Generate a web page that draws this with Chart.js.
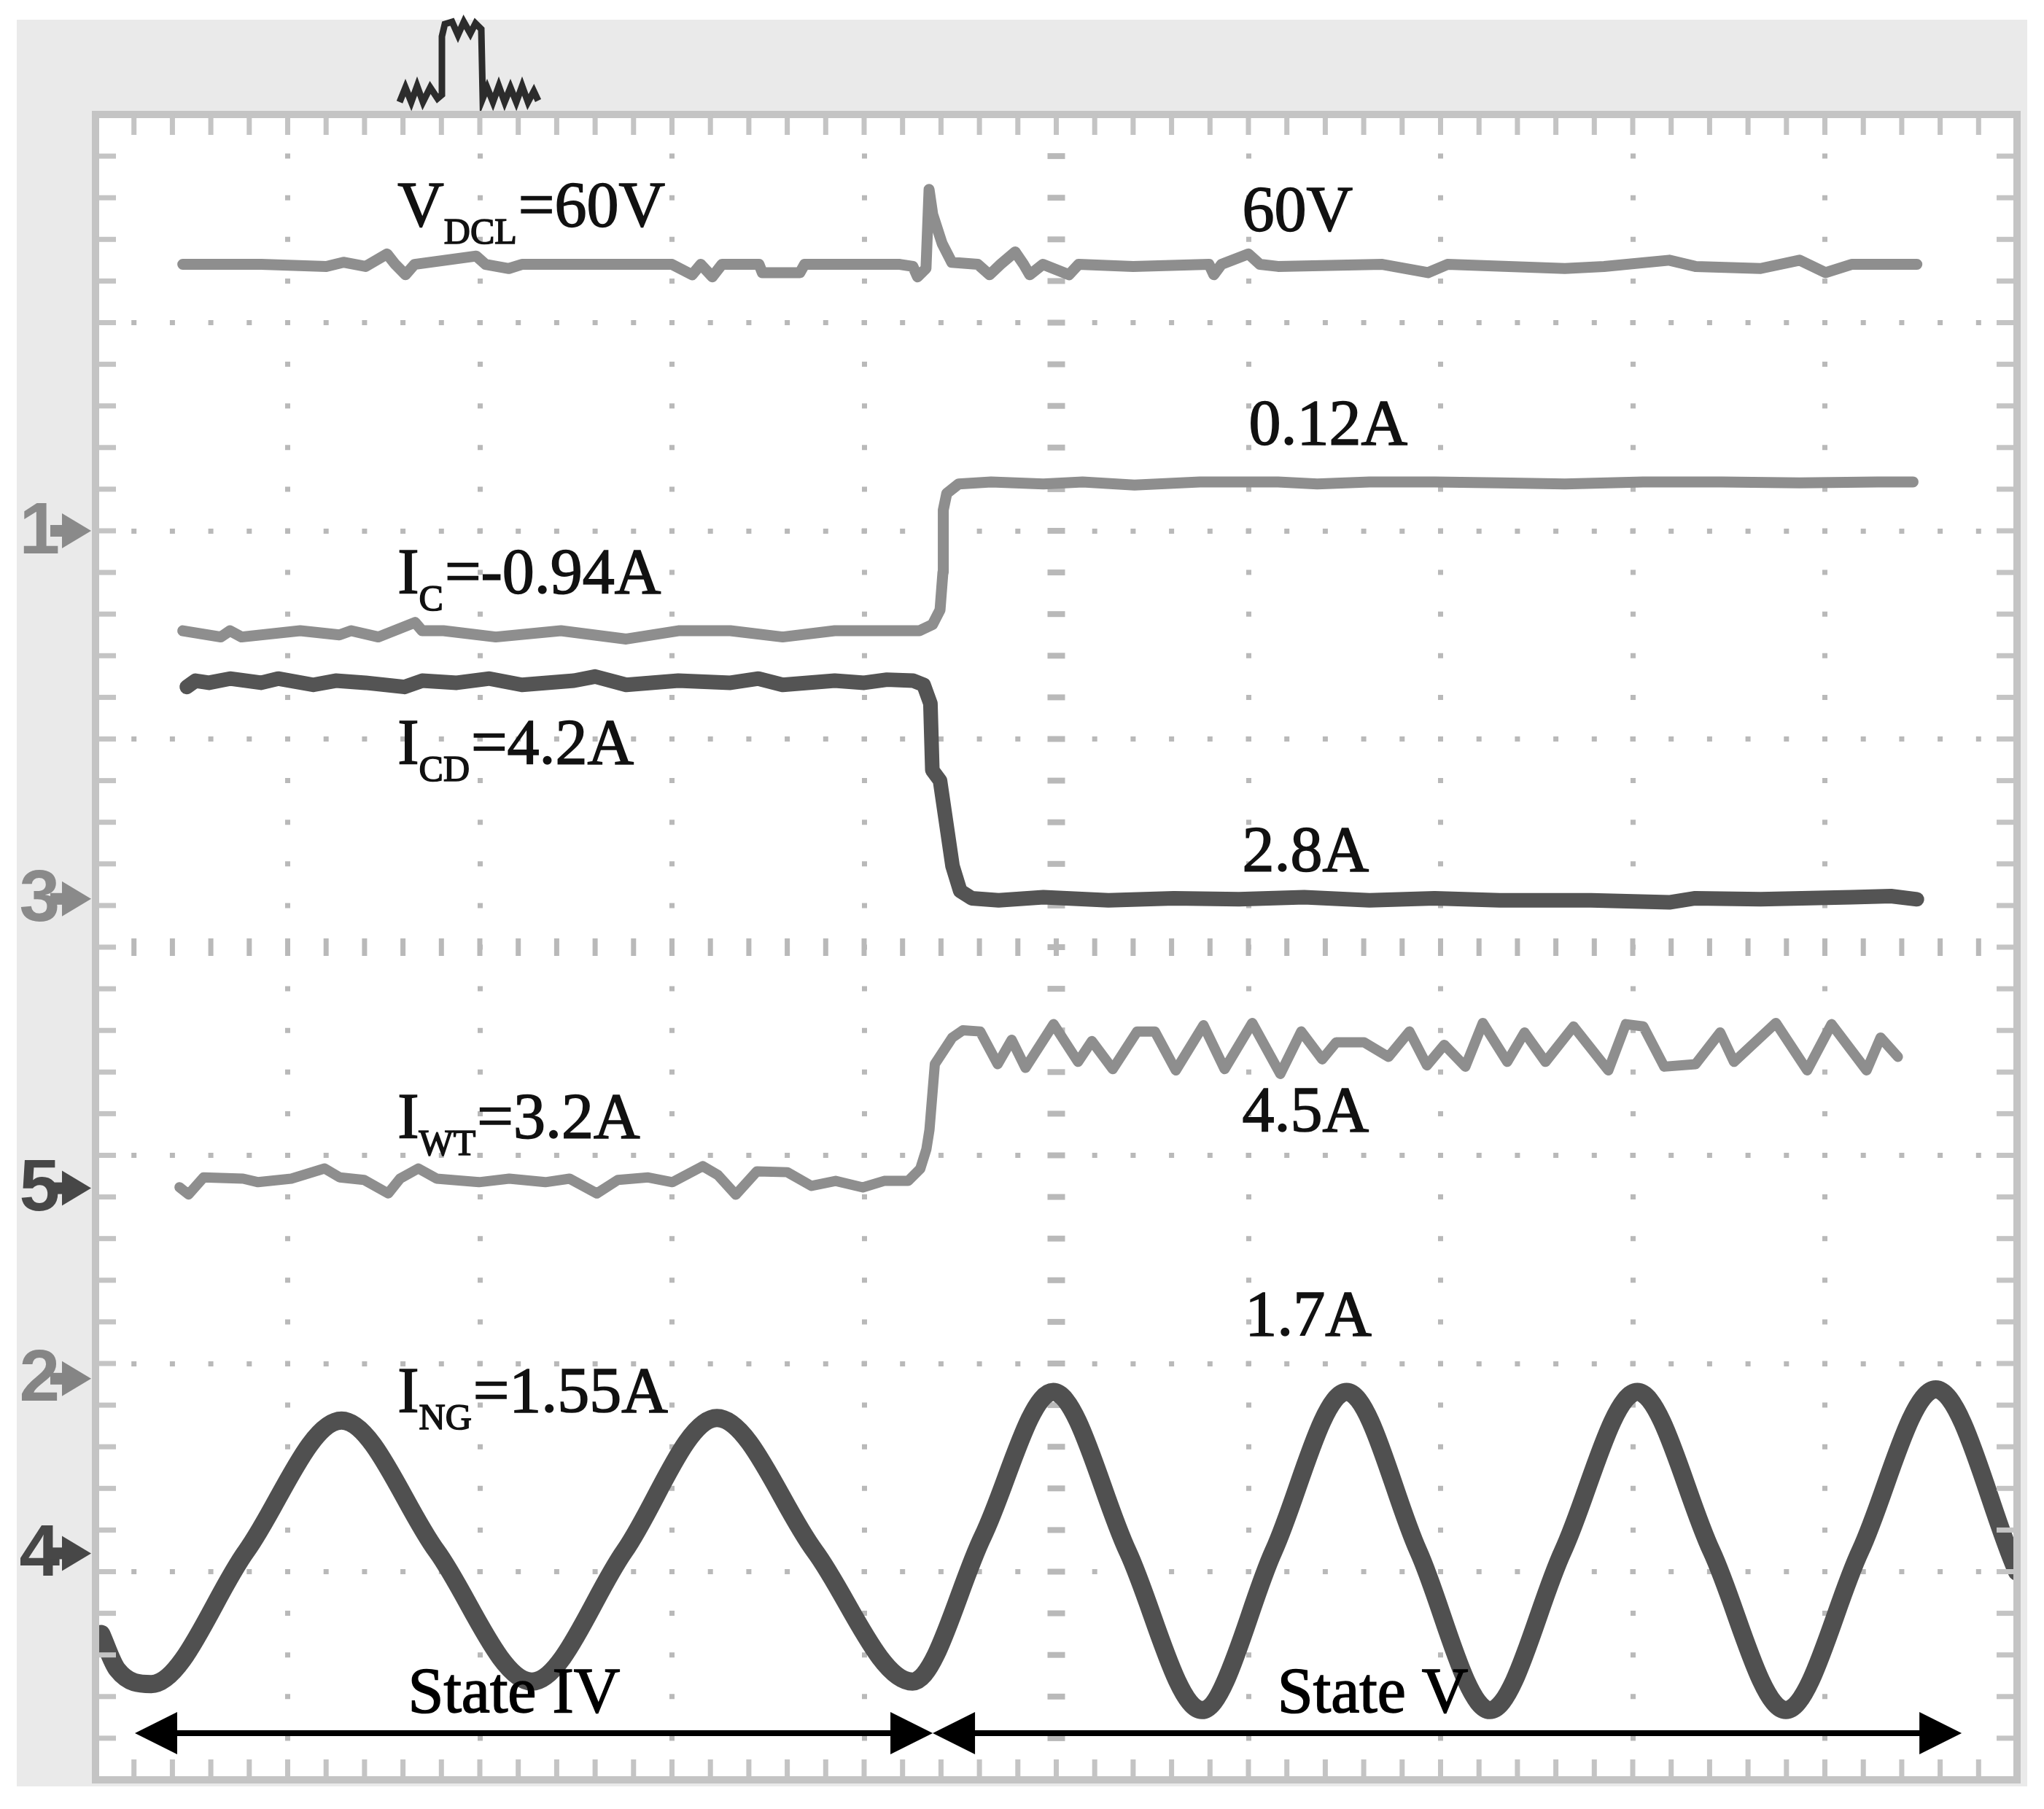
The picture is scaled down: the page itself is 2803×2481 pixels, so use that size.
<!DOCTYPE html>
<html>
<head>
<meta charset="utf-8">
<title>Scope capture - State IV / State V</title>
<script src="https://cdn.jsdelivr.net/npm/chart.js@4.4.1/dist/chart.umd.min.js"></script>
<style>
  html, body { margin: 0; padding: 0; background: #fff; }
  canvas { display: block; }
</style>
</head>
<body>
<canvas id="scope" width="2803" height="2481"></canvas>
<script>
"use strict";

// time axis in divisions (0..10), amplitude in divisions (-4..4)
const vdclT = [0.454,0.862,1.201,1.290,1.405,1.517,1.560,1.613,1.660,1.981,2.030,2.151,2.219,2.626,3.000,3.105,3.150,3.210,3.260,3.453,3.470,3.666,3.690,3.900,4.119,4.186,4.254,4.278,4.322,4.338,4.357,4.406,4.456,4.592,4.653,4.710,4.786,4.830,4.862,4.930,5.066,5.116,5.400,5.795,5.820,5.860,6.000,6.060,6.154,6.697,6.934,7.036,7.647,7.851,8.190,8.326,8.665,8.868,9.004,9.139,9.479];
const vdclV = [3.28,3.28,3.27,3.29,3.27,3.33,3.28,3.23,3.28,3.32,3.28,3.26,3.28,3.28,3.28,3.23,3.28,3.22,3.28,3.28,3.24,3.24,3.28,3.28,3.28,3.28,3.27,3.22,3.26,3.64,3.52,3.38,3.29,3.28,3.23,3.28,3.34,3.28,3.23,3.28,3.23,3.28,3.27,3.28,3.23,3.28,3.33,3.28,3.27,3.28,3.24,3.28,3.26,3.27,3.30,3.27,3.26,3.30,3.24,3.28,3.28];

const icT = [0.454,0.652,0.700,0.760,1.065,1.269,1.330,1.472,1.663,1.700,1.811,2.083,2.422,2.762,3.033,3.304,3.576,3.847,4.186,4.288,4.356,4.395,4.410,4.412,4.430,4.492,4.661,4.933,5.137,5.407,5.747,6.154,6.358,6.630,6.969,7.308,7.647,8.054,8.461,8.868,9.275,9.459];
const icV = [1.52,1.49,1.52,1.49,1.52,1.50,1.52,1.49,1.56,1.52,1.52,1.49,1.52,1.48,1.52,1.52,1.49,1.52,1.52,1.52,1.55,1.62,1.80,2.10,2.18,2.225,2.235,2.225,2.235,2.22,2.235,2.235,2.225,2.235,2.235,2.23,2.225,2.235,2.235,2.23,2.235,2.235];

const icdT = [0.475,0.520,0.590,0.700,0.862,0.950,1.133,1.250,1.405,1.608,1.700,1.880,2.050,2.219,2.490,2.600,2.762,3.033,3.304,3.450,3.576,3.847,4.000,4.119,4.255,4.310,4.345,4.355,4.395,4.460,4.500,4.560,4.700,4.933,5.272,5.612,5.951,6.290,6.630,6.969,7.308,7.783,8.190,8.326,8.665,9.139,9.344,9.479];
const icdV = [1.25,1.28,1.27,1.29,1.27,1.29,1.26,1.28,1.27,1.25,1.28,1.27,1.29,1.26,1.28,1.30,1.26,1.28,1.27,1.29,1.26,1.28,1.27,1.285,1.28,1.26,1.17,0.85,0.80,0.39,0.27,0.235,0.225,0.24,0.225,0.235,0.23,0.24,0.225,0.235,0.225,0.225,0.215,0.235,0.23,0.24,0.245,0.23];

const iwtT = [0.437,0.484,0.562,0.768,0.846,1.019,1.192,1.271,1.397,1.523,1.585,1.680,1.775,1.995,2.153,2.341,2.467,2.609,2.719,2.876,3.002,3.160,3.238,3.332,3.442,3.600,3.726,3.852,3.993,4.104,4.229,4.292,4.324,4.340,4.368,4.459,4.514,4.604,4.695,4.768,4.840,4.986,5.113,5.185,5.294,5.421,5.513,5.622,5.766,5.876,6.020,6.166,6.275,6.384,6.457,6.602,6.729,6.838,6.929,7.019,7.129,7.220,7.347,7.437,7.546,7.692,7.873,7.964,8.055,8.164,8.327,8.455,8.527,8.745,8.908,9.035,9.217,9.290,9.380];
const iwtV = [-1.153,-1.188,-1.106,-1.112,-1.129,-1.112,-1.063,-1.106,-1.118,-1.183,-1.112,-1.063,-1.112,-1.129,-1.112,-1.129,-1.112,-1.183,-1.118,-1.106,-1.129,-1.052,-1.094,-1.189,-1.077,-1.081,-1.147,-1.123,-1.154,-1.123,-1.123,-1.065,-0.971,-0.878,-0.562,-0.434,-0.399,-0.405,-0.562,-0.445,-0.580,-0.370,-0.551,-0.451,-0.586,-0.405,-0.405,-0.592,-0.375,-0.586,-0.364,-0.609,-0.405,-0.539,-0.457,-0.457,-0.527,-0.405,-0.568,-0.469,-0.574,-0.364,-0.551,-0.410,-0.551,-0.381,-0.592,-0.370,-0.381,-0.574,-0.562,-0.410,-0.551,-0.364,-0.592,-0.370,-0.592,-0.434,-0.527];

const ingT = [0.030,0.113,0.290,0.785,1.280,1.775,2.271,2.753,3.234,3.743,4.252,4.618,4.984,5.371,5.758,6.131,6.511,6.884,7.257,7.637,8.024,8.410,8.797,9.184,9.577,10.0];
const ingV = [-3.30,-3.47,-3.54,-2.901,-2.274,-2.901,-3.528,-2.901,-2.262,-2.901,-3.528,-2.83,-2.137,-2.901,-3.665,-2.901,-2.137,-2.901,-3.665,-2.901,-2.137,-2.901,-3.665,-2.901,-2.124,-3.0];

// channel reference markers on the left
const channelIds = ['1', '3', '5', '2', '4'];
const channelLevels = [2.0, 0.232, -1.158, -2.073, -2.912];
const channelColors = ['#8a8a8a', '#8a8a8a', '#474747', '#858585', '#474747'];

// value labels
const labelBase = ['V', '', '', 'I', 'I', '', 'I', '', '', 'I'];
const labelSub = ['DCL', '', '', 'C', 'CD', '', 'WT', '', '', 'NG'];
const labelRest = ['=60V', '60V', '0.12A', '=-0.94A', '=4.2A', '2.8A', '=3.2A', '4.5A', '1.7A', '=1.55A'];
const labelX = [1.572, 5.968, 6.002, 1.572, 1.572, 5.968, 1.572, 5.968, 5.982, 1.572];
const labelY = [3.463, 3.444, 2.417, 1.704, 0.883, 0.369, -0.914, -0.883, -1.862, -2.230];

// operating states
const stateNames = ['State IV', 'State V'];
const stateTextX = [1.626, 6.151];
const stateFrom = [0.205, 4.357];
const stateTo = [4.357, 9.712];
const stateTextY = -3.676;
const stateArrowY = -3.776;

const PAD = { left: 131, top: 157, right: 37, bottom: 40 };
const GRID = '#b9b9b9';
const FRAME = '#c4c4c4';
const traceLight = '#8e8e8e';
const traceDark = '#545454';

const pts = (t, v) => t.map((x, i) => ({ x, y: v[i] }));

function gridColor(c, lo, hi, mid) {
  const v = c.tick.value;
  return (v === lo || v === hi || v === mid) ? 'rgba(0,0,0,0)' : GRID;
}

function eachMinor(scale, count, cb) {
  for (let i = 0; i <= count; i++) {
    cb(scale.getPixelForValue(scale.min + (scale.max - scale.min) * i / count), i);
  }
}

function arrowHead(ctx, tipX, y, dir) {
  ctx.beginPath();
  ctx.moveTo(tipX, y);
  ctx.lineTo(tipX - dir * 58, y - 29);
  ctx.lineTo(tipX - dir * 58, y + 29);
  ctx.closePath();
  ctx.fill();
}

// text drawn slightly heavier, like the scanned figure
function heavyText(ctx, txt, x, y) {
  ctx.fillText(txt, x, y);
  ctx.strokeText(txt, x, y);
}

const scopePlugin = {
  id: 'scope',
  beforeDraw(chart) {
    const { ctx, chartArea: a, width, height } = chart;
    ctx.save();
    ctx.fillStyle = '#fff';
    ctx.fillRect(0, 0, width, height);
    ctx.fillStyle = '#eaeaea';
    ctx.fillRect(23, 27, 2780 - 23, 2450 - 27);
    ctx.fillStyle = '#fff';
    ctx.fillRect(a.left, a.top, a.right - a.left, a.bottom - a.top);
    ctx.restore();
  },
  beforeDatasetsDraw(chart) {
    const { ctx, chartArea: a } = chart;
    const xs = chart.scales.x, ys = chart.scales.y;
    ctx.save();
    ctx.fillStyle = GRID;
    // centre cross with small tick bars
    const xc = xs.getPixelForValue(5), yc = ys.getPixelForValue(0);
    eachMinor(ys, 40, (y) => ctx.fillRect(xc - 12, y - 4, 24, 8));
    eachMinor(xs, 50, (x) => ctx.fillRect(x - 3.5, yc - 12, 7, 24));

    // trigger symbol above the screen
    const ix = a.left + 417;
    const icon = [[0,140],[8,120],[16,140],[24,118],[32,140],[42,120],[52,135],[58,130],[58,50],[62,33],[72,30],[80,48],[88,30],[97,46],[104,32],[112,40],[114,135],[120,120],[128,140],[136,118],[144,140],[152,120],[160,140],[168,118],[176,140],[184,125],[190,138]];
    ctx.strokeStyle = '#2c2c2c';
    ctx.lineWidth = 9;
    ctx.lineJoin = 'miter';
    ctx.beginPath();
    icon.forEach(([dx, y], i) => i ? ctx.lineTo(ix + dx, y) : ctx.moveTo(ix + dx, y));
    ctx.stroke();

    // channel markers
    ctx.textAlign = 'right';
    ctx.textBaseline = 'middle';
    ctx.font = 'bold 100px "Liberation Sans"';
    channelIds.forEach((id, i) => {
      const y = ys.getPixelForValue(channelLevels[i]);
      ctx.fillStyle = channelColors[i];
      ctx.fillText(id, 82, y + 3);
      ctx.fillRect(a.left - 62, y - 8, 22, 16);
      ctx.beginPath();
      ctx.moveTo(a.left - 6, y);
      ctx.lineTo(a.left - 46, y - 24);
      ctx.lineTo(a.left - 46, y + 24);
      ctx.closePath();
      ctx.fill();
    });
    ctx.restore();
  },
  afterDatasetsDraw(chart) {
    const { ctx, chartArea: a } = chart;
    const xs = chart.scales.x, ys = chart.scales.y;
    ctx.save();

    // screen frame with minor ticks
    ctx.strokeStyle = FRAME;
    ctx.lineWidth = 10;
    ctx.strokeRect(a.left, a.top, a.right - a.left, a.bottom - a.top);
    ctx.fillStyle = FRAME;
    eachMinor(xs, 50, (x) => {
      ctx.fillRect(x - 3.5, a.top, 7, 28);
      ctx.fillRect(x - 3.5, a.bottom - 28, 7, 28);
    });
    eachMinor(ys, 40, (y) => {
      ctx.fillRect(a.left, y - 3.5, 28, 7);
      ctx.fillRect(a.right - 28, y - 3.5, 28, 7);
    });

    // value labels
    const mainFont = '88px "Liberation Serif"';
    const subFont = '50px "Liberation Serif"';
    ctx.fillStyle = '#111';
    ctx.strokeStyle = '#111';
    ctx.lineWidth = 1.6;
    ctx.textAlign = 'left';
    ctx.textBaseline = 'alphabetic';
    labelRest.forEach((rest, i) => {
      let x = xs.getPixelForValue(labelX[i]);
      const y = ys.getPixelForValue(labelY[i]);
      ctx.font = mainFont;
      if (labelBase[i]) {
        heavyText(ctx, labelBase[i], x, y);
        x += ctx.measureText(labelBase[i]).width;
      }
      if (labelSub[i]) {
        ctx.font = subFont;
        heavyText(ctx, labelSub[i], x, y + 24);
        x += ctx.measureText(labelSub[i]).width + 2;
        ctx.font = mainFont;
      }
      heavyText(ctx, rest, x, y);
    });

    // state arrows
    const ay = ys.getPixelForValue(stateArrowY);
    ctx.fillStyle = '#000';
    stateNames.forEach((name, i) => {
      const x0 = xs.getPixelForValue(stateFrom[i]);
      const x1 = xs.getPixelForValue(stateTo[i]);
      ctx.strokeStyle = '#000';
      ctx.lineWidth = 8;
      ctx.beginPath();
      ctx.moveTo(x0 + 50, ay);
      ctx.lineTo(x1 - 50, ay);
      ctx.stroke();
      arrowHead(ctx, x0, ay, -1);
      arrowHead(ctx, x1, ay, 1);
      ctx.font = mainFont;
      ctx.lineWidth = 1.6;
      heavyText(ctx, name, xs.getPixelForValue(stateTextX[i]), ys.getPixelForValue(stateTextY));
    });
    ctx.restore();
  }
};

new Chart(document.getElementById('scope'), {
  type: 'line',
  data: {
    datasets: [
      { label: 'VDCL', data: pts(vdclT, vdclV), borderColor: traceLight, borderWidth: 15 },
      { label: 'IC', data: pts(icT, icV), borderColor: traceLight, borderWidth: 15 },
      { label: 'ICD', data: pts(icdT, icdV), borderColor: traceDark, borderWidth: 20 },
      { label: 'IWT', data: pts(iwtT, iwtV), borderColor: traceLight, borderWidth: 14 },
      { label: 'ING', data: pts(ingT, ingV), borderColor: '#505050', borderWidth: 25, cubicInterpolationMode: 'monotone' }
    ]
  },
  options: {
    responsive: false,
    animation: false,
    devicePixelRatio: 1,
    layout: { padding: PAD },
    elements: {
      point: { radius: 0 },
      line: { tension: 0, borderJoinStyle: 'round', borderCapStyle: 'round' }
    },
    plugins: { legend: { display: false }, tooltip: { enabled: false } },
    scales: {
      x: {
        type: 'linear', min: 0, max: 10,
        ticks: { display: false, stepSize: 1 },
        grid: { color: (c) => gridColor(c, 0, 10, 5), lineWidth: 7, drawTicks: false },
        border: { display: false, dash: [7, 50.1], dashOffset: 3.5 }
      },
      y: {
        type: 'linear', min: -4, max: 4,
        ticks: { display: false, stepSize: 1 },
        grid: { color: (c) => gridColor(c, -4, 4, 0), lineWidth: 7, drawTicks: false },
        border: { display: false, dash: [7, 45.7], dashOffset: 3.5 }
      }
    }
  },
  plugins: [scopePlugin]
});
</script>
</body>
</html>
